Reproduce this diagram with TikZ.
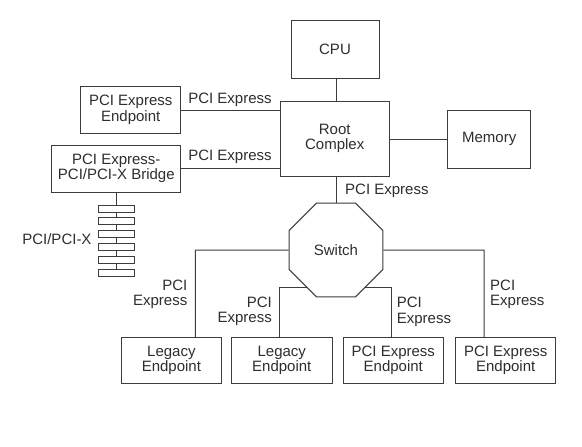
\documentclass[tikz,border=0pt]{standalone}
\usepackage{fontspec}
\setmainfont{Liberation Sans}
\usetikzlibrary{shapes.geometric}
\definecolor{linec}{HTML}{3C3C3C}
\definecolor{textc}{HTML}{2E2E2E}
\tikzset{
  box/.style={draw=linec, line width=1pt, inner sep=0pt, align=center, text=textc,
    font=\fontsize{15}{15.5}\selectfont},
  lbl/.style={inner sep=0pt, text=textc, font=\fontsize{15}{15.5}\selectfont},
  wire/.style={draw=linec, line width=1pt},
  rung/.style={draw=linec, line width=0.9pt, fill=white, minimum width=36pt, minimum height=7pt, inner sep=0pt}
}
\begin{document}
\begin{tikzpicture}[x=1pt,y=-1pt]
\useasboundingbox[fill=white] (0,0) rectangle (582,447);
% boxes
\node[box, minimum width=88pt, minimum height=57.6pt] (cpu) at (335,49.5) {CPU};
\node[box, minimum width=109.3pt, minimum height=75pt] (root) at (334.7,138.5) {Root\\Complex};
\node[box, minimum width=100pt, minimum height=46.6pt] (ep0) at (130.7,110) {PCI Express\\Endpoint};
\node[box, minimum width=129.3pt, minimum height=47pt] (br) at (116.3,168.5) {PCI Express-\\PCI/PCI-X Bridge};
\node[box, minimum width=83pt, minimum height=58.3pt] (mem) at (489.2,139.2) {Memory};
\node[box, regular polygon, regular polygon sides=8, minimum size=101.7pt] (sw) at (336,250) {Switch};
\node[box, minimum width=100.7pt, minimum height=46pt] (le1) at (171.4,360.3) {Legacy\\Endpoint};
\node[box, minimum width=101pt, minimum height=46pt] (le2) at (281.8,360.3) {Legacy\\Endpoint};
\node[box, minimum width=100pt, minimum height=46pt] (pe3) at (393.3,360.3) {PCI Express\\Endpoint};
\node[box, minimum width=100pt, minimum height=46pt] (pe4) at (505.7,360.3) {PCI Express\\Endpoint};

% top connectors
\draw[wire] (cpu.south -| sw.north) -- (root.north -| sw.north);
\draw[wire] (root.south -| sw.north) -- (sw.north);
\draw[wire] (ep0.east) -- (ep0.east -| root.west);
\draw[wire] (br.east) -- (br.east -| root.west);
\draw[wire] (mem.west -| root.east) -- (mem.west);

% PCI/PCI-X bus ladder
\coordinate (busend) at (116,276.5);
\draw[wire, line width=0.9pt] (br.south -| busend) -- (busend);
\foreach \i/\yy in {1/208.5, 2/221.3, 3/234.1, 4/246.9, 5/259.7, 6/272.5}
  \node[rung] (r\i) at (116.3,\yy) {};

% lower connectors
\coordinate (k1) at (195.3,250);
\coordinate (s2) at (307.4,287.7);
\coordinate (k2) at (279,287.7);
\coordinate (s3) at (364.6,287.7);
\coordinate (k3) at (391.7,287.7);
\coordinate (k4) at (484,250);
\draw[wire] (sw.west) -- (k1) -- (k1 |- le1.north);
\draw[wire] (s2) -- (k2) -- (k2 |- le2.north);
\draw[wire] (s3) -- (k3) -- (k3 |- pe3.north);
\draw[wire] (sw.east) -- (k4) -- (k4 |- pe4.north);

% labels
\node[lbl] (l1) at (230,100) {PCI Express};
\node[lbl] (l2) at (230,157) {PCI Express};
\node[lbl, anchor=west] (l3) at (345,191) {PCI Express};
\node[lbl, anchor=east] (l4) at (91.7,239) {PCI/PCI-X};
\node[lbl, anchor=east, align=right] (l5) at (187.5,294.2) {PCI\\Express};
\node[lbl, anchor=east, align=right] (l6) at (272,311.5) {PCI\\Express};
\node[lbl, anchor=west, align=left] (l7) at (396.7,312) {PCI\\Express};
\node[lbl, anchor=west, align=left] (l8) at (490,294.2) {PCI\\Express};
\end{tikzpicture}
\end{document}
